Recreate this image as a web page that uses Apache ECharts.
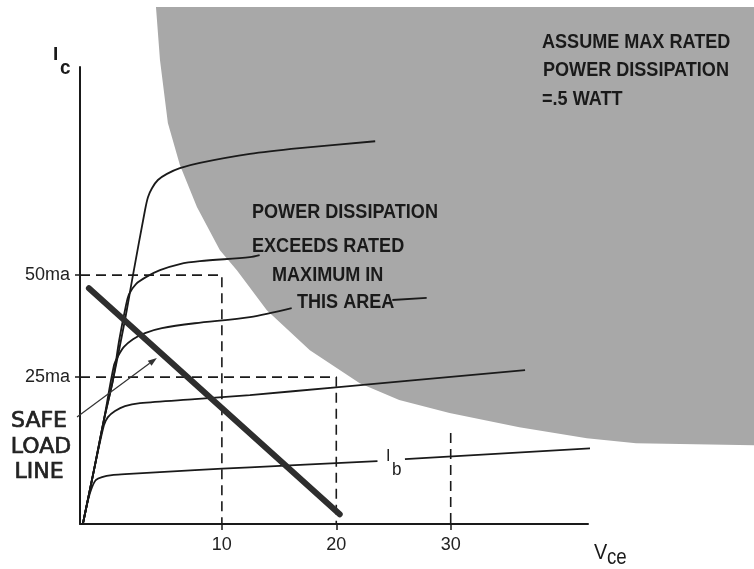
<!DOCTYPE html>
<html><head><meta charset="utf-8">
<script src="https://cdn.jsdelivr.net/npm/echarts@6/dist/echarts.min.js"></script>
<style>html,body{margin:0;padding:0;background:#fff}#c{width:754px;height:569px}</style>
</head><body><div id="c"></div>
<script>
// ---- data (Vce in volts, Ic in ma) ----
const xTicks = [10, 20, 30];
const yTicks = [25, 50];
const curve1 = [[-2.15,-11.0],[-1.18,2.2],[-0.31,14.5],[0.48,24.3],[1.53,39.0],[2.23,50.0],[3.28,65.9],[3.54,69.1],[3.89,71.3],[4.41,73.3],[5.20,74.8],[6.33,76.2],[8.08,77.5],[12.45,79.7],[16.8,81.1],[23.4,82.8]];
const curve2 = [[-2.15,-11.0],[-1.18,2.2],[-0.31,14.5],[0.48,24.3],[1.03,34.1],[1.62,42.6],[1.88,45.3],[2.49,47.8],[3.36,49.5],[4.59,51.2],[6.33,52.7],[8.08,53.4],[12.45,54.4],[13.3,54.9]];
const curve3 = [[-2.15,-11.0],[-1.18,2.2],[-0.31,14.5],[0.57,27.9],[0.92,30.1],[1.44,32.4],[2.23,34.3],[3.28,35.8],[4.76,37.0],[7.64,38.2],[12.45,39.7],[16.1,41.9]];
const curve3tail = [[24.9,43.9],[27.9,44.4]];
const curve4 = [[-2.15,-11.0],[-1.18,2.2],[-0.31,13.2],[0.04,15.2],[0.66,16.7],[1.53,17.9],[2.84,18.6],[7.64,19.6],[12.45,20.6],[19.96,22.5],[36.5,26.7]];
const curve5 = [[-2.15,-11.0],[-1.70,-5.1],[-1.35,-2.0],[-1.0,-0.2],[-0.48,0.5],[0.39,1.0],[1.53,1.2],[7.64,2.2],[12.45,2.9],[23.6,4.4]];
const curve5tail = [[26.0,4.9],[43.7,7.8]];
const loadLine = [[-1.62,46.8],[20.3,-8.6]];
const safeArrow = [[-2.66,15.2],[4.32,29.7]];
const dash50 = [[-2.4,50],[10,50],[10,-11]];
const dash25 = [[-2.4,25],[20,25],[20,-11]];
const dash30 = [[30,11.3],[30,-11]];
// boundary of the shaded "power exceeds rating" region
const grayBoundary = [[4.24,115.7],[4.59,102.7],[5.28,87.3],[6.33,77.0],[7.82,66.7],[9.83,56.1],[11.31,51.2],[13.93,41.4],[17.69,31.6],[22.05,23.5],[25.5,19.4],[29.9,16.2],[36.0,12.7],[41.9,10.0],[46.2,8.8],[56.5,8.3],[60,8.3],[60,115.7]];

const SANS = '"Liberation Sans",Arial,sans-serif';
const INK = '#1a1a1a';

function curveSeries(data, extra) {
  return Object.assign({
    type: 'line', data: data, symbol: 'none', smooth: 0.3, clip: false, silent: true,
    lineStyle: { color: INK, width: 1.8 }, z: 3
  }, extra || {});
}
function dashSeries(data) {
  return { type: 'line', data: data, symbol: 'none', clip: false, silent: true,
    lineStyle: { color: INK, width: 1.6, type: [10, 6] }, z: 2 };
}
function note(x, y, text, extra) {
  return Object.assign({ type: 'text', x: x, y: y, z: 10, scaleX: 0.86,
    style: { text: text, font: 'bold 21px ' + SANS, fill: INK, verticalAlign: 'middle' } }, extra || {});
}
function safeText(x, y, text) {
  return { type: 'text', x: x, y: y, z: 10,
    style: { text: text, font: '22px "DejaVu Sans",sans-serif', fill: '#222', stroke: '#222', lineWidth: 0.7,
      align: 'center', verticalAlign: 'middle' } };
}

const chart = echarts.init(document.getElementById('c'), null, { renderer: 'canvas' });
chart.setOption({
  animation: false,
  backgroundColor: '#fff',
  grid: { left: 80, right: 166, top: 67, bottom: 45, containLabel: false, outerBoundsMode: 'none' },
  xAxis: {
    type: 'value', min: -2.4, max: 42,
    axisLine: { show: true, onZero: false, lineStyle: { color: INK, width: 2 } },
    splitLine: { show: false },
    axisTick: { show: true, customValues: xTicks, length: 6, lineStyle: { color: INK, width: 1.5 } },
    axisLabel: { customValues: xTicks, fontSize: 18, color: '#222', margin: 12, fontFamily: SANS }
  },
  yAxis: {
    type: 'value', min: -11, max: 101,
    axisLine: { show: true, onZero: false, lineStyle: { color: INK, width: 2 } },
    splitLine: { show: false },
    axisTick: { show: true, customValues: yTicks, length: 5, lineStyle: { color: INK, width: 1.5 } },
    axisLabel: { customValues: yTicks, formatter: v => v + 'ma', fontSize: 18, color: '#222', margin: 10, fontFamily: SANS }
  },
  series: [
    {
      type: 'custom', clip: false, silent: true, z: 1,
      data: grayBoundary,
      renderItem: function (params, api) {
        if (params.dataIndex !== 0) return null;
        const pts = grayBoundary.map(p => api.coord(p));
        return { type: 'polygon', shape: { points: pts }, style: { fill: '#a8a8a8' } };
      }
    },
    dashSeries(dash50), dashSeries(dash25), dashSeries(dash30),
    curveSeries(curve1), curveSeries(curve2), curveSeries(curve3), curveSeries(curve3tail, { smooth: false }),
    curveSeries(curve4), curveSeries(curve5), curveSeries(curve5tail, { smooth: false }),
    {
      type: 'line', data: loadLine, symbol: 'none', clip: false, silent: true, z: 4,
      lineStyle: { color: '#2e2e2e', width: 6, cap: 'round' }
    },
    {
      type: 'custom', clip: false, silent: true, z: 5,
      data: safeArrow,
      renderItem: function (params, api) {
        if (params.dataIndex !== 0) return null;
        const a = api.coord(safeArrow[0]), b = api.coord(safeArrow[1]);
        const dx = b[0] - a[0], dy = b[1] - a[1], L = Math.hypot(dx, dy);
        const ux = dx / L, uy = dy / L, nx = -uy, ny = ux;
        const hl = 9, hw = 3.2;
        const bx = b[0] - ux * hl, by = b[1] - uy * hl;
        return { type: 'group', children: [
          { type: 'line', shape: { x1: a[0], y1: a[1], x2: bx, y2: by }, style: { stroke: '#333', lineWidth: 1.2 } },
          { type: 'polygon', shape: { points: [b, [bx + nx * hw, by + ny * hw], [bx - nx * hw, by - ny * hw]] }, style: { fill: '#333' } }
        ] };
      }
    }
  ],
  graphic: [
    note(542, 42, 'ASSUME MAX RATED'),
    note(543, 70, 'POWER DISSIPATION'),
    note(542, 99, '=.5 WATT'),
    note(252, 212, 'POWER DISSIPATION'),
    note(252, 246, 'EXCEEDS RATED'),
    note(272, 275, 'MAXIMUM IN'),
    note(297, 302, 'THIS AREA'),
    safeText(39, 421, 'SAFE'),
    safeText(41, 447, 'LOAD'),
    safeText(39, 472, 'LINE'),
    { type: 'text', x: 53, y: 64, z: 10, style: { text: 'I', font: 'bold 19px ' + SANS, fill: INK, verticalAlign: 'bottom' } },
    { type: 'text', x: 60, y: 79, z: 10, scaleX: 0.9, style: { text: 'c', font: 'bold 21px ' + SANS, fill: INK, verticalAlign: 'bottom' } },
    { type: 'text', x: 594, y: 564, z: 10, scaleX: 0.9, style: { text: 'V', font: '22px ' + SANS, fill: INK, verticalAlign: 'bottom' } },
    { type: 'text', x: 607, y: 569, z: 10, scaleX: 0.85, style: { text: 'ce', font: '22px ' + SANS, fill: INK, verticalAlign: 'bottom' } },
    { type: 'text', x: 386, y: 465, z: 10, style: { text: 'I', font: '16px ' + SANS, fill: INK, verticalAlign: 'bottom' } },
    { type: 'text', x: 392, y: 479, z: 10, scaleX: 0.9, style: { text: 'b', font: '19px ' + SANS, fill: INK, verticalAlign: 'bottom' } }
  ]
});
</script>
</body></html>
